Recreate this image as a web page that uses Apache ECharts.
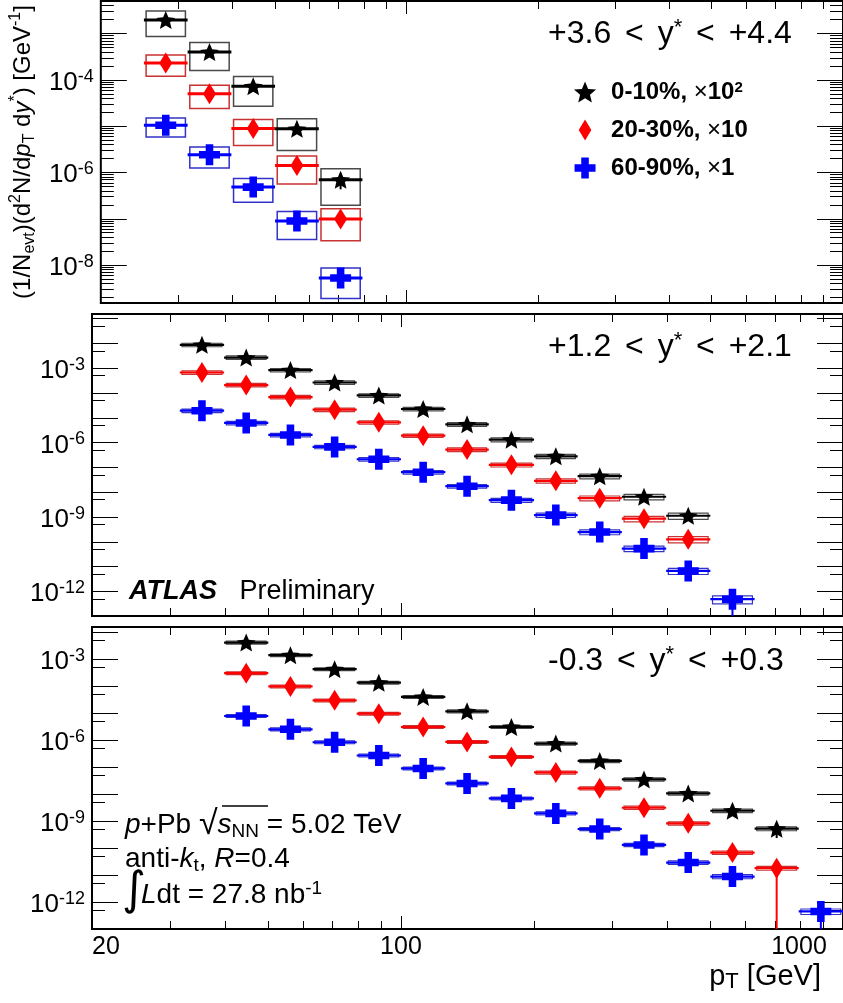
<!DOCTYPE html>
<html><head><meta charset="utf-8">
<script src="https://cdn.jsdelivr.net/npm/echarts@6/dist/echarts.min.js"></script>
<style>html,body{margin:0;padding:0;background:#fff}#c{width:843px;height:1003px}</style>
</head><body><div id="c"></div>
<script>
// ---------------- data ----------------
const ptBinEdges = [25.1, 31.6, 39.8, 50.1, 63.1, 79.4, 100, 126, 158, 200, 251, 316, 398, 501, 631, 794, 1000];
const centralityNames = ['0-10%', '20-30%', '60-90%'];
const scaleFactors = ['10^2', '10', '1'];
const rapidityBins = ['+3.6 < y* < +4.4', '+1.2 < y* < +2.1', '-0.3 < y* < +0.3'];
const xTickLabels = [20, 100, 1000];
const yTickLabelsTop = [1e-4, 1e-6, 1e-8];
const yTickLabelsMid = [1e-3, 1e-6, 1e-9, 1e-12];
const yTickLabelsBot = [1e-3, 1e-6, 1e-9, 1e-12];

// panel 1 : +3.6 < y* < +4.4 (first bin index 0)
const fwdFirstBin = 0;
const fwd_0_10  = [1.94e-3, 3.95e-4, 7.2e-5, 8.66e-6, 6.9e-7];
const fwd_20_30 = [2.29e-4, 4.99e-5, 8.79e-6, 1.40e-6, 9.75e-8];
const fwd_60_90 = [1.035e-5, 2.38e-6, 4.78e-7, 8.83e-8, 5.22e-9];
const fwd_0_10_sys  = [0.56, 0.60, 0.63, 0.66, 0.72];
const fwd_20_30_sys = [0.48, 0.52, 0.57, 0.60, 0.66];
const fwd_60_90_sys = [0.44, 0.48, 0.53, 0.60, 0.64];
const fwd_0_10_stat  = [0.02, 0.03, 0.05, 0.12, 0.38];
const fwd_20_30_stat = [0.02, 0.03, 0.05, 0.10, 0.30];
const fwd_60_90_stat = [0.02, 0.03, 0.05, 0.10, 0.30];

// panel 2 : +1.2 < y* < +2.1 (first bin index 1)
const midFirstBin = 1;
const mid_0_10  = [8.55e-3, 2.63e-3, 8.2e-4, 2.6e-4, 7.8e-5, 2.22e-5, 5.33e-6, 1.29e-6, 2.75e-7, 4.32e-8, 6.43e-9, 1.1e-9];
const mid_20_30 = [6.58e-4, 2.05e-4, 6.74e-5, 2.08e-5, 6.41e-6, 1.87e-6, 5.13e-7, 1.24e-7, 2.83e-8, 5.65e-9, 8.37e-10, 1.23e-10];
const mid_60_90 = [1.9e-5, 6.07e-6, 2.0e-6, 6.58e-7, 2.09e-7, 6.27e-8, 1.71e-8, 4.69e-9, 1.17e-9, 2.42e-10, 5.21e-11, 6.55e-12, 4.76e-13];
const mid_0_10_sys  = [0.16, 0.16, 0.16, 0.16, 0.16, 0.16, 0.17, 0.18, 0.2, 0.22, 0.25, 0.28];
const mid_20_30_sys = [0.16, 0.16, 0.16, 0.16, 0.16, 0.16, 0.17, 0.18, 0.2, 0.22, 0.25, 0.28];
const mid_60_90_sys = [0.16, 0.16, 0.16, 0.16, 0.16, 0.16, 0.17, 0.18, 0.2, 0.22, 0.25, 0.28, 0.35];
const mid_0_10_stat  = [0.01, 0.01, 0.01, 0.01, 0.01, 0.02, 0.02, 0.03, 0.04, 0.06, 0.1, 0.2];
const mid_20_30_stat = [0.01, 0.01, 0.01, 0.01, 0.01, 0.02, 0.02, 0.03, 0.05, 0.08, 0.15, 0.3];
const mid_60_90_stat = [0.01, 0.01, 0.01, 0.01, 0.01, 0.02, 0.02, 0.03, 0.05, 0.08, 0.15, 0.35, 1.0];

// panel 3 : -0.3 < y* < +0.3 (first bin index 2)
const cenFirstBin = 2;
const cen_0_10  = [3.99e-3, 1.36e-3, 4.13e-4, 1.3e-4, 3.89e-5, 1.14e-5, 2.99e-6, 7.3e-7, 1.66e-7, 3.43e-8, 1.04e-8, 2.38e-9, 5.15e-10];
const cen_20_30 = [2.94e-4, 9.5e-5, 2.89e-5, 9.33e-6, 2.99e-6, 8.37e-7, 2.34e-7, 6.21e-8, 1.6e-8, 3.07e-9, 8.15e-10, 6.71e-11, 1.78e-11];
const cen_60_90 = [7.62e-6, 2.46e-6, 8.15e-7, 2.64e-7, 8.73e-8, 2.44e-8, 6.82e-9, 1.9e-9, 5.02e-10, 1.29e-10, 2.87e-11, 8.73e-12, null, 4.46e-13];
const cen_0_10_sys  = [0.12, 0.12, 0.12, 0.12, 0.12, 0.12, 0.12, 0.13, 0.13, 0.14, 0.14, 0.15, 0.16];
const cen_20_30_sys = [0.12, 0.12, 0.12, 0.12, 0.12, 0.12, 0.12, 0.13, 0.13, 0.14, 0.14, 0.15, 0.16];
const cen_60_90_sys = [0.12, 0.12, 0.12, 0.12, 0.12, 0.12, 0.12, 0.13, 0.13, 0.14, 0.15, 0.17, 0, 0.23];
const cen_0_10_stat  = [0.01, 0.01, 0.01, 0.01, 0.01, 0.01, 0.02, 0.02, 0.03, 0.05, 0.08, 0.2, 0.55];
const cen_20_30_stat = [0.01, 0.01, 0.01, 0.01, 0.01, 0.01, 0.02, 0.02, 0.03, 0.05, 0.1, 0.3, 1.0];
const cen_60_90_stat = [0.01, 0.01, 0.01, 0.01, 0.01, 0.01, 0.02, 0.03, 0.05, 0.08, 0.15, 0.35, 0, 1.0];

// ---------------- layout / style ----------------
const FONT = "'Liberation Sans', Arial, Helvetica, sans-serif";
const X_MIN = 20, X_MAX = 1000;
const yRanges = [[1.5e-9, 5e-3], [1e-13, 0.15], [1e-13, 0.015]];
const GRID_TOP = [1, 314, 627], GRID_H = 302, GRID_L = 92, GRID_W = 754;
const colors = ['#000000', '#ff0000', '#0000ff'];
const boxColors = ['#4a4a4a', '#c83232', '#3232c8'];
const lineWidths = [3, 2.2, 2.2];
const STAR = 'path://M50,0 L63.23,31.8 L97.55,34.55 L71.4,56.95 L79.39,90.45 L50,72.5 L20.61,90.45 L28.6,56.95 L2.45,34.55 L36.77,31.8 Z';
const DIAMOND = 'path://M6,0 L12,10 L6,20 L0,10 Z';
const CROSS = 'path://M32,0 L68,0 L68,32 L100,32 L100,68 L68,68 L68,100 L32,100 L32,68 L0,68 L0,32 L32,32 Z';
const symbols = [STAR, DIAMOND, CROSS];
const symbolSizes = [[19, 18], [13, 21], [21, 21]];

const panels = [
  {first: fwdFirstBin, vals: [fwd_0_10, fwd_20_30, fwd_60_90], sys: [fwd_0_10_sys, fwd_20_30_sys, fwd_60_90_sys], stat: [fwd_0_10_stat, fwd_20_30_stat, fwd_60_90_stat], labels: yTickLabelsTop},
  {first: midFirstBin, vals: [mid_0_10, mid_20_30, mid_60_90], sys: [mid_0_10_sys, mid_20_30_sys, mid_60_90_sys], stat: [mid_0_10_stat, mid_20_30_stat, mid_60_90_stat], labels: yTickLabelsMid},
  {first: cenFirstBin, vals: [cen_0_10, cen_20_30, cen_60_90], sys: [cen_0_10_sys, cen_20_30_sys, cen_60_90_sys], stat: [cen_0_10_stat, cen_20_30_stat, cen_60_90_stat], labels: yTickLabelsBot}
];

function buildRows(p, c) {
  const P = panels[p], yMin = yRanges[p][0];
  const rows = [], pts = [];
  P.vals[c].forEach((v, k) => {
    if (v == null) return;
    const b = P.first + k;
    const lo = ptBinEdges[b], hi = ptBinEdges[b + 1];
    const s = P.sys[c][k], st = P.stat[c][k];
    rows.push([lo, hi, v, Math.max(v * (1 - s), yMin), v * (1 + s), Math.max(v * (1 - st), yMin), v * (1 + st)]);
    pts.push([Math.sqrt(lo * hi), v]);
  });
  return {rows, pts};
}

function tickRows(p) {
  const [lo, hi] = yRanges[p];
  const rows = [];
  const minorMult = p === 0 ? [2, 3, 4, 5, 6, 7, 8, 9] : [5];
  for (let e = Math.floor(Math.log10(lo)); e <= Math.ceil(Math.log10(hi)); e++) {
    const d = Math.pow(10, e);
    if (d >= lo && d <= hi) rows.push([X_MIN, d, 0]);
    minorMult.forEach(m => { const v = m * d; if (v > lo && v < hi) rows.push([X_MIN, v, 1]); });
  }
  [30, 40, 50, 60, 70, 80, 90, 200, 300, 400, 500, 600, 700, 800, 900].forEach(v => rows.push([v, lo, 3]));
  [100, 1000].forEach(v => rows.push([v, lo, 2]));
  return rows;
}

function tickRenderer(p) {
  const [lo, hi] = yRanges[p];
  return function (params, api) {
    const kind = api.value(2);
    const st = {stroke: '#000', lineWidth: 1};
    if (kind < 2) {
      const a = api.coord([X_MIN, api.value(1)]), b = api.coord([X_MAX, api.value(1)]);
      const len = kind === 0 ? 26 : 13;
      const y = Math.round(a[1]) + 0.5;
      return {type: 'group', children: [
        {type: 'line', shape: {x1: a[0], y1: y, x2: a[0] + len, y2: y}, style: st},
        {type: 'line', shape: {x1: b[0] - len, y1: y, x2: b[0], y2: y}, style: st}
      ]};
    } else {
      const a = api.coord([api.value(0), lo]), b = api.coord([api.value(0), hi]);
      const len = kind === 2 ? 13 : 8;
      const x = Math.round(a[0]) + 0.5;
      return {type: 'group', children: [
        {type: 'line', shape: {x1: x, y1: a[1], x2: x, y2: a[1] - len}, style: st},
        {type: 'line', shape: {x1: x, y1: b[1], x2: x, y2: b[1] + len}, style: st}
      ]};
    }
  };
}

function errRenderer(p, c) {
  return function (params, api) {
    const v = api.value(2);
    const pL = api.coord([api.value(0), v]), pH = api.coord([api.value(1), v]);
    const sLo = api.coord([api.value(0), api.value(3)]), sHi = api.coord([api.value(0), api.value(4)]);
    const tLo = api.coord([api.value(0), api.value(5)]), tHi = api.coord([api.value(0), api.value(6)]);
    const w = pH[0] - pL[0];
    const bx0 = pL[0] + w * 0.05, bx1 = pH[0] - w * 0.05;
    const xc = (pL[0] + pH[0]) / 2;
    return {type: 'group', children: [
      {type: 'rect', shape: {x: bx0, y: sHi[1], width: bx1 - bx0, height: sLo[1] - sHi[1]},
        style: {fill: 'none', stroke: boxColors[c], lineWidth: p === 0 ? 1.5 : 1.2}},
      {type: 'line', shape: {x1: pL[0], y1: pL[1], x2: pH[0], y2: pH[1]}, style: {stroke: colors[c], lineWidth: lineWidths[p]}},
      {type: 'line', shape: {x1: xc, y1: tHi[1], x2: xc, y2: tLo[1]}, style: {stroke: colors[c], lineWidth: 2}}
    ]};
  };
}

const supRich = {
  b: {fontSize: 26, fontFamily: FONT, color: '#000', lineHeight: 30},
  s: {fontSize: 18, fontFamily: FONT, color: '#000', verticalAlign: 'top', lineHeight: 14}
};
function yLabelFmt(list) {
  return function (v) {
    const ok = list.some(t => Math.abs(Math.log10(v) - Math.log10(t)) < 1e-6);
    if (!ok) return '';
    return '{b|10}{s|' + Math.round(Math.log10(v)) + '}';
  };
}

const grid = GRID_TOP.map(t => ({left: GRID_L, top: t, width: GRID_W, height: GRID_H, show: true,
  borderColor: '#000', borderWidth: 2, backgroundColor: 'rgba(0,0,0,0)'}));

const xAxis = [0, 1, 2].map(i => ({
  type: 'log', logBase: 10, gridIndex: i, min: X_MIN, max: X_MAX,
  axisLine: {show: false}, axisTick: {show: false}, splitLine: {show: false}, minorTick: {show: false},
  axisLabel: i === 2 ? {
    show: true, customValues: xTickLabels, margin: 6, color: '#000', fontFamily: FONT, fontSize: 25,
    alignMinLabel: 'left',
    formatter: v => { const r = Math.round(v); return r === 1000 ? '{e|1000}' : '{n|' + r + '}'; },
    rich: {n: {fontSize: 25, fontFamily: FONT, color: '#000'}, e: {fontSize: 25, fontFamily: FONT, color: '#000', padding: [0, 88, 0, 0]}}
  } : {show: false},
  name: i === 2 ? '{n|p}{t|T}{n| [GeV]}' : '',
  nameLocation: 'end', nameGap: -22,
  nameTextStyle: {align: 'right', verticalAlign: 'top', padding: [32, 0, 0, 0],
    rich: {n: {fontSize: 29, fontFamily: FONT, color: '#000', lineHeight: 32},
           t: {fontSize: 22, fontFamily: FONT, color: '#000', verticalAlign: 'bottom', lineHeight: 12}}}
}));

const yAxis = [0, 1, 2].map(i => ({
  type: 'log', logBase: 10, gridIndex: i, min: yRanges[i][0], max: yRanges[i][1], splitNumber: 12,
  axisLine: {show: false}, axisTick: {show: false}, splitLine: {show: false}, minorTick: {show: false},
  axisLabel: {show: true, customValues: panels[i].labels, margin: 7, padding: [6, 0, 0, 0],
    formatter: yLabelFmt(panels[i].labels), rich: supRich},
  name: i === 0 ? '{n|(1/N}{sb|evt}{n|)(d}{sp|2}{n|N/d}{i|p}{sb|T}{n| d}{i|y}{sp|*}{n|) [GeV}{sp|-1}{n|]}' : '',
  nameLocation: 'middle', nameGap: 47,
  nameTextStyle: {rich: {
    n: {fontSize: 24, fontFamily: FONT, color: '#000', lineHeight: 30},
    i: {fontSize: 24, fontFamily: FONT, fontStyle: 'italic', color: '#000', lineHeight: 30},
    sb: {fontSize: 16, fontFamily: FONT, color: '#000', verticalAlign: 'bottom', lineHeight: 18},
    sp: {fontSize: 16, fontFamily: FONT, color: '#000', verticalAlign: 'top', lineHeight: 16}
  }}
}));

const series = [];
for (let p = 0; p < 3; p++) {
  series.push({type: 'custom', xAxisIndex: p, yAxisIndex: p, renderItem: tickRenderer(p), data: tickRows(p),
    encode: {x: 0, y: 1}, z: 1, silent: true});
  for (let c = 0; c < 3; c++) {
    const {rows, pts} = buildRows(p, c);
    series.push({type: 'custom', xAxisIndex: p, yAxisIndex: p, renderItem: errRenderer(p, c), data: rows,
      encode: {x: [0, 1], y: [2, 3, 4, 5, 6]}, z: 3, clip: true, silent: true});
    series.push({type: 'scatter', name: centralityNames[c], xAxisIndex: p, yAxisIndex: p, data: pts,
      symbol: symbols[c], symbolSize: symbolSizes[c], itemStyle: {color: colors[c], opacity: 1}, z: 5, silent: true});
  }
}

function rapRich(s) {
  const parts = s.split('y*');
  const a = parts[0].split('<'), b = parts[1].split('<');
  return '{n|' + a[0] + '}{g|<}{n|' + a[1] + 'y}{s|*}{n|' + b[0] + '}{g|<}{n|' + b[1] + '}';
}
const rapStyle = {n: {fontSize: 32, fontFamily: FONT, fill: '#000', lineHeight: 34},
                  g: {fontSize: 32, fontFamily: FONT, fill: '#000', lineHeight: 34, padding: [0, 5, 0, 5]},
                  s: {fontSize: 22, fontFamily: FONT, fill: '#000', verticalAlign: 'top', lineHeight: 22}};
const rapY = [34, 347, 661];
const txtRich = {
  n: {fontSize: 28, fontFamily: FONT, fill: '#000', lineHeight: 32},
  r: {fontSize: 34, fontFamily: FONT, fill: '#000', lineHeight: 32},
  i: {fontSize: 28, fontFamily: FONT, fontStyle: 'italic', fill: '#000', lineHeight: 32},
  sb: {fontSize: 19, fontFamily: FONT, fill: '#000', verticalAlign: 'bottom', lineHeight: 17},
  sp: {fontSize: 19, fontFamily: FONT, fill: '#000', verticalAlign: 'top', lineHeight: 16}
};
function txt(x, y, text, rich) {
  return {type: 'text', x: x, y: y, z: 10, style: {text: text, rich: rich, align: 'left', verticalAlign: 'middle', textAlign: 'left', textVerticalAlign: 'middle'}};
}
const graphic = [
  ...rapidityBins.map((s, i) => txt(548, rapY[i], rapRich(s), rapStyle)),
  txt(129, 592, '{a|ATLAS}{n|   Preliminary}', {a: {fontSize: 27, fontFamily: FONT, fontWeight: 'bold', fontStyle: 'italic', fill: '#000'}, n: {fontSize: 27, fontFamily: FONT, fill: '#000'}}),
  txt(125, 825, '{i|p}{n|+Pb }{r|\u221A}{i|s}{sb|NN}{n| = 5.02 TeV}', txtRich),
  {type: 'line', z: 10, shape: {x1: 222, y1: 806, x2: 268, y2: 806}, style: {stroke: '#000', lineWidth: 1.5}},
  txt(125, 859, '{n|anti-}{i|k}{sb|t}{n|, }{i|R}{n|=0.4}', txtRich),
  {type: 'text', x: 122, y: 892, z: 10, style: {text: '\u222B', fontSize: 46, fontFamily: "'DejaVu Sans'", fill: '#000', align: 'left', verticalAlign: 'middle'}},
  txt(141, 895, '{i|L}{n|dt = 27.8 nb}{sp|-1}', txtRich)
];

function legendText(name) {
  const idx = centralityNames.indexOf(name);
  const f = scaleFactors[idx].split('^');
  return '{c|' + name + ', }{x|\u00D7}{b|' + f[0] + '}' + (f[1] ? '{s|' + f[1] + '}' : '');
}

const option = {
  animation: false,
  backgroundColor: '#fff',
  textStyle: {fontFamily: FONT},
  grid, xAxis, yAxis, series, graphic,
  legend: {
    orient: 'vertical', left: 569, top: 75, itemWidth: 30, itemHeight: 21, itemGap: 14,
    symbolKeepAspect: true, selectedMode: false,
    data: [{name: centralityNames[0], icon: STAR}, {name: centralityNames[1], icon: DIAMOND}, {name: centralityNames[2], icon: CROSS}],
    formatter: legendText,
    textStyle: {rich: {
      c: {fontSize: 24, fontWeight: 'bold', fontFamily: FONT, color: '#000', lineHeight: 24, padding: [0, 0, 0, 6]},
      b: {fontSize: 24, fontWeight: 'bold', fontFamily: FONT, color: '#000', lineHeight: 24},
      x: {fontSize: 24, fontFamily: FONT, color: '#000', lineHeight: 24},
      s: {fontSize: 15, fontWeight: 'bold', fontFamily: FONT, color: '#000', verticalAlign: 'top', lineHeight: 12}
    }}
  }
};
const chart = echarts.init(document.getElementById('c'), null, {renderer: 'canvas'});
chart.setOption(option);
</script>
</body></html>
